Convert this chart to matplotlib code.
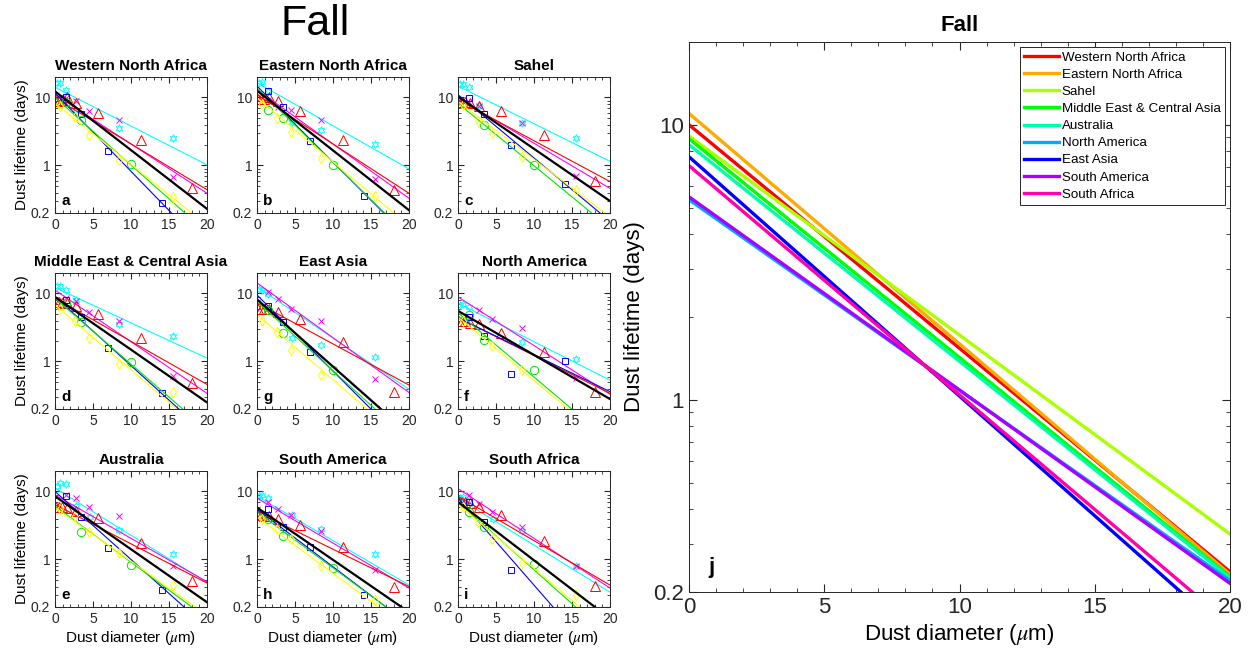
import colorsys
import numpy as np
import matplotlib.pyplot as plt
from matplotlib.ticker import LogLocator, NullFormatter

plt.rcParams['font.family'] = ['Liberation Sans', 'DejaVu Sans']
plt.rcParams['mathtext.fontset'] = 'stix'

# panel order in the 3x3 grid
regions = ['Western North Africa', 'Eastern North Africa', 'Sahel',
           'Middle East & Central Asia', 'East Asia', 'North America',
           'Australia', 'South America', 'South Africa']
letters = ['a', 'b', 'c', 'd', 'g', 'f', 'e', 'h', 'i']

# binned model lifetimes (days) per panel, NaN where a model has no point
cyan_d = [0.2, 0.6, 1.4, 2.7, 4.6, 8.4, 15.5]
cyan_vals = [[16.5, 16.5, 13.0, 6.5, np.nan, 3.6, 2.5],
             [16.5, 17.0, 12.5, np.nan, 4.3, 3.3, 2.1],
             [15.6, 16.0, 14.4, 7.6, np.nan, 4.2, 2.5],
             [12.8, 13.0, 11.4, 8.0, np.nan, 3.5, 2.4],
             [11.8, 11.4, 9.8, np.nan, 2.2, 1.74, 1.18],
             [6.8, 7.0, 6.4, np.nan, np.nan, 1.94, 1.1],
             [12.2, 13.1, 12.7, 6.1, 4.2, 2.7, 1.2],
             [8.5, 8.8, 8.0, np.nan, 4.5, 2.8, 1.2],
             [8.0, 8.2, 7.5, np.nan, 4.0, 2.6, 0.8]]

mag_d = [1.4, 2.7, 4.5, 8.4, 15.5]
mag_vals = [[9.8, 8.9, 6.3, 4.6, 0.68],
            [9.2, 7.3, 6.5, 4.7, 0.63],
            [8.7, 7.5, np.nan, 4.2, 0.7],
            [8.5, 7.8, 5.4, 3.9, 0.61],
            [10.6, 8.4, 5.9, 4.0, 0.56],
            [np.nan, 5.7, 4.2, 3.06, 0.58],
            [8.9, 8.0, 5.9, 4.4, 0.79],
            [7.0, 5.5, 4.5, 2.6, 0.7],
            [9.0, 6.5, 5.0, 3.0, 0.8]]

red_d = [0.15, 0.5, 0.9, 1.6, 2.7, 5.6, 11.3, 18.0]
red_vals = [[9.0, 9.0, 9.2, 10.0, 8.3, 6.0, 2.4, 0.47],
            [9.5, 9.5, 9.5, 10.0, 9.0, 6.3, 2.4, 0.43],
            [8.7, 8.7, 8.5, 8.2, 7.5, 6.3, 2.8, 0.6],
            [7.6, 7.4, 7.3, 7.3, 6.6, 5.0, 2.2, 0.48],
            [5.9, 5.9, 6.0, 6.0, 5.4, 4.2, 1.94, 0.35],
            [3.9, 4.0, 3.9, 3.7, 3.5, 2.65, 1.39, 0.35],
            [5.9, 6.0, 5.9, 5.8, 5.2, 4.1, 1.77, 0.49],
            [4.5, 4.5, 4.4, 4.4, 4.0, 3.2, 1.5, 0.4],
            [7.0, 7.0, 7.0, 6.8, 6.0, 4.5, 1.9, 0.41]]

blue_d = [1.4, 3.4, 7.0, 14.1]
blue_vals = [[10.0, 5.8, 1.65, 0.28],
             [12.6, 7.3, 2.3, 0.36],
             [9.8, 5.8, 2.0, 0.53],
             [8.0, 4.5, 1.56, 0.34],
             [6.6, 3.8, 1.36, np.nan],
             [4.5, 2.4, 0.65, 1.0],
             [8.5, 4.25, 1.47, 0.35],
             [5.5, 3.0, 1.5, 0.3],
             [7.0, 3.5, 0.7, np.nan]]

green_d = [1.5, 3.4, 10.0]
green_vals = [[8.5, 4.6, 1.06],
              [6.5, 5.0, 1.02],
              [np.nan, 3.9, 1.0],
              [7.2, 3.8, 0.98],
              [5.7, 2.6, 0.74],
              [4.9, 2.1, 0.74],
              [np.nan, 2.5, 0.82],
              [4.0, 2.2, 0.75],
              [5.0, 3.0, 0.85]]

yel_d = [0.6, 2.6, 4.5, 8.4, 15.5]
yel_vals = [[7.5, 5.1, 2.8, 1.19, 0.34],
            [8.0, 5.0, 3.1, 1.3, 0.36],
            [7.7, 4.5, 3.0, 1.34, 0.43],
            [5.9, 4.0, 2.2, 0.93, 0.35],
            [4.0, 2.7, 1.49, 0.64, np.nan],
            [3.9, np.nan, 1.7, 0.74, np.nan],
            [5.5, 4.4, 2.5, 1.25, 0.42],
            [4.0, 2.8, 2.0, 0.8, 0.25],
            [6.0, 3.5, 2.0, 0.9, 0.3]]

# exponential fits: lifetime at D = 0 and D = 20 um
cyan0 = [14.2, 16.5, 14.7, 12.2, 12.5, 7.2, 11.2, 8.5, 8.0]
cyan20 = [1.02, 0.89, 1.15, 1.12, 0.39, 0.53, 0.46, 0.42, 0.33]
mag0 = [11.0, 13.0, 9.8, 11.2, 14.3, 8.9, 8.9, 8.0, 11.0]
mag20 = [0.39, 0.33, 0.46, 0.34, 0.35, 0.33, 0.47, 0.38, 0.38]
red0 = [9.8, 11.0, 9.2, 8.5, 7.3, 4.4, 6.4, 5.0, 8.5]
red20 = [0.44, 0.39, 0.58, 0.46, 0.45, 0.34, 0.45, 0.40, 0.42]
blue0 = [11.6, 14.7, 11.0, 9.0, 9.5, 4.4, 10.0, 5.5, 8.0]
blue20 = [0.058, 0.085, 0.151, 0.084, 0.055, 0.36, 0.10, 0.111, 0.022]
green0 = [10.0, 13.8, 8.2, 8.5, 7.6, 5.2, 6.1, 5.0, 7.0]
green20 = [0.103, 0.089, 0.12, 0.098, 0.07, 0.067, 0.137, 0.113, 0.071]
yel0 = [8.2, 9.8, 8.7, 6.8, 4.9, 4.5, 5.8, 4.2, 6.5]
yel20 = [0.132, 0.13, 0.175, 0.083, 0.059, 0.061, 0.152, 0.093, 0.084]
black0 = [12.3, 12.6, 10.3, 8.9, 8.2, 5.55, 8.5, 5.8, 7.0]
black20 = [0.23, 0.22, 0.30, 0.25, 0.086, 0.28, 0.235, 0.168, 0.135]

# ensemble fits for panel j
j_regions = ['Western North Africa', 'Eastern North Africa', 'Sahel',
             'Middle East & Central Asia', 'Australia', 'North America',
             'East Asia', 'South America', 'South Africa']
j_life0 = [10.0, 11.0, 9.1, 8.9, 8.46, 5.34, 7.65, 5.47, 7.1]
j_life20 = [0.237, 0.232, 0.325, 0.228, 0.225, 0.22, 0.139, 0.215, 0.153]

models = [
    (cyan_d, cyan_vals, cyan0, cyan20, (0, 1, 1), (6, 1, 0), 5.5),
    (mag_d, mag_vals, mag0, mag20, (1, 0, 1), 'x', 4),
    (red_d, red_vals, red0, red20, (1, 0, 0), '^', 6.5),
    (blue_d, blue_vals, blue0, blue20, (0, 0, 1), 's', 4.5),
    (green_d, green_vals, green0, green20, (0, 0.9, 0), 'o', 6),
    (yel_d, yel_vals, yel0, yel20, (1, 1, 0), 'd', 5.5),
]

W, H = 1250, 658
fig = plt.figure(figsize=(12.5, 6.58), dpi=100)
axis_grey = (0.15, 0.15, 0.15)


def setup(ax, fs):
    ax.set_yscale('log')
    ax.set_xlim(0, 20)
    ax.set_ylim(0.2, 20)
    ax.set_xticks([0, 5, 10, 15, 20])
    ax.set_xticks(np.arange(0, 21, 1), minor=True)
    ax.set_yticks([0.2, 1, 10])
    ax.set_yticklabels(['0.2', '1', '10'])
    ax.yaxis.set_minor_locator(LogLocator(base=10, subs=np.arange(2, 10)))
    ax.yaxis.set_minor_formatter(NullFormatter())
    ax.tick_params(which='both', direction='in', top=True, right=True,
                   labelsize=fs, colors=axis_grey, labelcolor=axis_grey)
    ax.tick_params(which='major', length=4)
    ax.tick_params(which='minor', length=2)
    for s in ax.spines.values():
        s.set_color(axis_grey)
        s.set_linewidth(0.7)


col_left = [55, 257, 458]
row_top = [77, 273, 471]
pw, ph = 152, 136

for k in range(9):
    r, c = divmod(k, 3)
    ax = fig.add_axes([col_left[c] / W, 1 - (row_top[r] + ph) / H, pw / W, ph / H])
    setup(ax, 10)
    for d, vals, f0, f20, col, mk, ms in models:
        ax.plot([0, 20], [f0[k], f20[k]], color=col, lw=0.8)
        ax.plot(d, vals[k], ls='none', marker=mk, ms=ms, mfc='none',
                mec=col, mew=0.7)
    ax.plot([0, 20], [black0[k], black20[k]], color='k', lw=1.6)
    ax.set_title(regions[k], fontsize=11, fontweight='bold', pad=5)
    ax.text(0.04, 0.04, letters[k], transform=ax.transAxes, fontsize=11,
            fontweight='bold', va='bottom', ha='left')
    if c == 0:
        ax.set_ylabel('Dust lifetime (days)', fontsize=11, labelpad=1)
    if r == 2:
        ax.set_xlabel(r'Dust diameter ($\mu$m)', fontsize=11, labelpad=2)

fig.text(315 / W, 1 - 24 / H, 'Fall', fontsize=31, ha='center', va='center')

# panel j: all regions together
axj = fig.add_axes([689 / W, 1 - 592 / H, 541 / W, 550 / H])
setup(axj, 16)
axj.tick_params(which='major', length=6)
axj.tick_params(which='minor', length=3)
for i, name in enumerate(j_regions):
    col = colorsys.hsv_to_rgb(i / 9, 1, 1)
    axj.plot([0, 20], [j_life0[i], j_life20[i]], color=col, lw=2.4, label=name)
axj.set_title('Fall', fontsize=16, fontweight='bold', pad=8)
axj.set_xlabel(r'Dust diameter ($\mu$m)', fontsize=16, labelpad=3)
axj.set_ylabel('Dust lifetime (days)', fontsize=16, labelpad=6)
axj.text(0.035, 0.025, 'j', transform=axj.transAxes, fontsize=16,
         fontweight='bold', va='bottom', ha='left')
leg = axj.legend(loc='upper right', fontsize=9.6, handlelength=2.6,
                 handletextpad=0.2, labelspacing=0.36, borderpad=0.3,
                 borderaxespad=0.4, fancybox=False, framealpha=1)
leg.get_frame().set_edgecolor(axis_grey)
leg.get_frame().set_linewidth(0.7)

fig.savefig('out.png', dpi=100, facecolor='white')
